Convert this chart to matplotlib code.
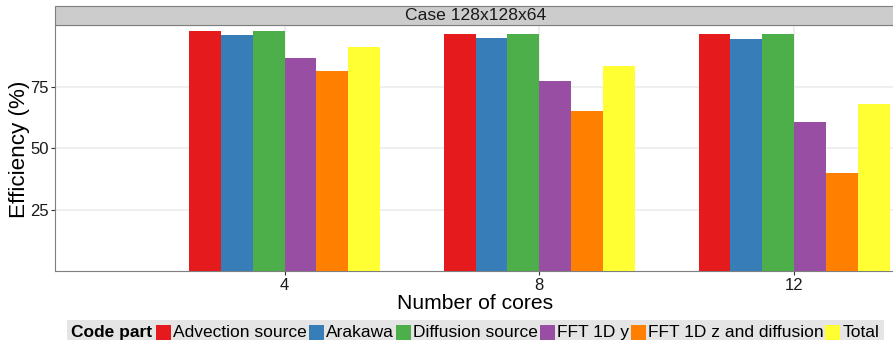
import matplotlib
matplotlib.use("Agg")
import matplotlib.pyplot as plt
from matplotlib.patches import Rectangle
import numpy as np

plt.rcParams['font.family'] = ['Liberation Sans', 'DejaVu Sans']

# Data: parallel efficiency per code part
cores = [4, 8, 12]
parts = ["Advection source", "Arakawa", "Diffusion source",
         "FFT 1D y", "FFT 1D z and diffusion", "Total"]
advection_source = [97.4, 96.2, 96.2]
arakawa = [95.8, 94.6, 94.2]
diffusion_source = [97.4, 96.2, 96.2]
fft_1d_y = [86.5, 77.1, 60.5]
fft_1d_z_diffusion = [81.2, 65.1, 39.9]
total = [90.9, 83.2, 67.8]
series = [advection_source, arakawa, diffusion_source,
          fft_1d_y, fft_1d_z_diffusion, total]
colors = ["#E41A1C", "#377EB8", "#4DAF4A", "#984EA3", "#FF7F00", "#FFFF33"]
y_ticks = [25, 50, 75]
facet_title = "Case 128x128x64"

W, H = 893, 340
fig = plt.figure(figsize=(W / 100, H / 100), dpi=100)
fig.patch.set_facecolor("white")

# panel geometry in pixels (panel runs slightly past the right edge)
px_left, px_right, px_top, px_bottom = 55.3, 896.0, 25.0, 271.4
ax = fig.add_axes([px_left / W, 1 - px_bottom / H,
                   (px_right - px_left) / W, (px_bottom - px_top) / H])

bar_w = 0.5
n = len(series)
x = np.array(cores, dtype=float)
for i, (vals, c) in enumerate(zip(series, colors)):
    ax.bar(x + (i - (n - 1) / 2) * bar_w, vals, width=bar_w, color=c,
           edgecolor="none", zorder=3, label=parts[i])

ax.set_xlim(0.4, 13.6)
ax.set_ylim(0, 100)
ax.set_xticks(cores)
ax.set_xticklabels([str(c) for c in cores])
ax.set_yticks(y_ticks)
ax.set_yticklabels([str(t) for t in y_ticks])

ax.grid(True, which="major", color="#EBEBEB", linewidth=1.1, zorder=0)
ax.set_axisbelow(True)
for s in ax.spines.values():
    s.set_color("#7F7F7F")
    s.set_linewidth(0.8)
ax.spines["right"].set_visible(False)

ax.tick_params(axis="both", length=3, width=0.8, color="#333333",
               labelsize=12, labelcolor="#1A1A1A", pad=1.5)

# facet strip
ax.add_patch(Rectangle((0, 1), 1.2, 19.0 / (px_bottom - px_top),
                       transform=ax.transAxes, clip_on=False,
                       facecolor="#CCCCCC", edgecolor="#7F7F7F",
                       linewidth=0.8, zorder=5))
fig.text(475.5 / W, 1 - 20.5 / H, facet_title, ha="center", va="baseline",
         fontsize=12.6, color="#1A1A1A")

# axis titles
fig.text(475.5 / W, 1 - 309.3 / H, "Number of cores", ha="center",
         va="baseline", fontsize=15.2, color="black")
fig.text(20 / W, 1 - 149 / H, "Efficiency (%)", ha="center", va="center",
         rotation=90, fontsize=16.2, color="black")

# legend strip along the bottom
fig.canvas.draw()
renderer = fig.canvas.get_renderer()
base = 337.0
key = 15.0
xpos = 71.0
t = fig.text(xpos / W, 1 - base / H, "Code part", fontweight="bold",
             fontsize=12.5, ha="left", va="baseline", zorder=3)
bb = t.get_window_extent(renderer)
xpos = bb.x1 + 4
for lab, c in zip(parts, colors):
    fig.patches.append(Rectangle((xpos / W, 1 - 339.5 / H), key / W, key / H,
                                 transform=fig.transFigure, facecolor=c,
                                 edgecolor="none", zorder=2))
    xpos += key + 2
    t = fig.text(xpos / W, 1 - base / H, lab, fontsize=12.5, ha="left",
                 va="baseline", zorder=3)
    bb = t.get_window_extent(renderer)
    xpos = bb.x1 + 2
fig.patches.insert(0, Rectangle((67 / W, 0), (xpos + 3 - 67) / W,
                                (H - 320) / H, transform=fig.transFigure,
                                facecolor="#E5E5E5", edgecolor="none",
                                zorder=1))

fig.savefig("out.png", dpi=100)
